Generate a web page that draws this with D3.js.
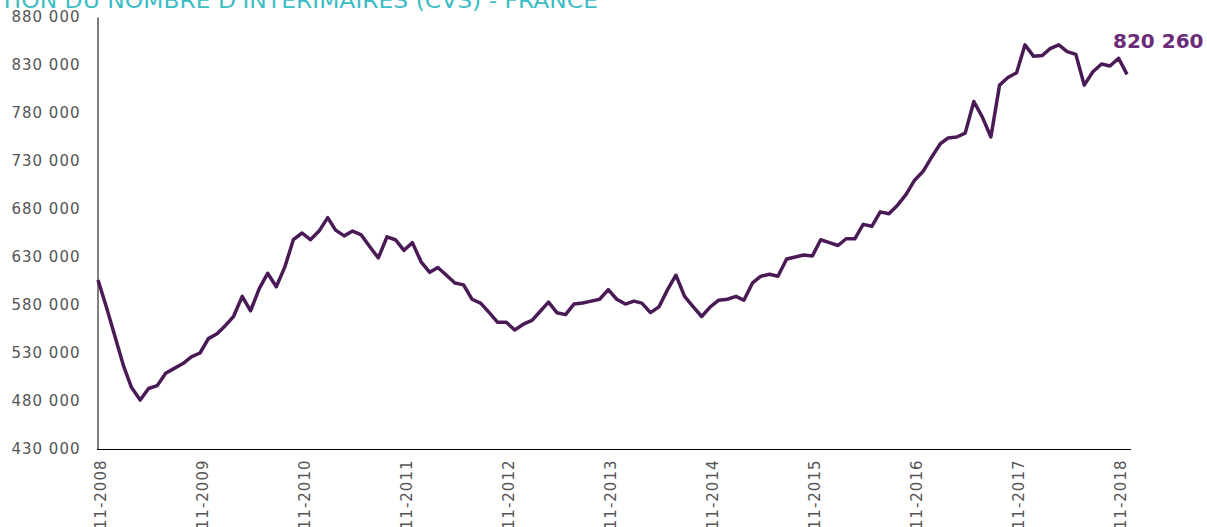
<!DOCTYPE html>
<html>
<head>
<meta charset="utf-8">
<script src="https://cdn.jsdelivr.net/npm/d3@7"></script>
<style>
  html, body { margin: 0; padding: 0; background: #fff; }
  svg { display: block; }
</style>
</head>
<body>
<svg id="chart" width="1207" height="527"></svg>
<script>
// ---- Data ----
const titleText = "ÉVOLUTION DU NOMBRE D'INTERIMAIRES (CVS) - FRANCE";
const startMonth = "2008-11";   // first monthly observation
const values = [
  606000, 578000, 547000, 516000, 494000, 481000, 493000, 496000, 509000, 514000,
  519000, 526000, 530000, 545000, 550000, 559000, 568000, 589000, 574000, 597000,
  613000, 599000, 620000, 648000, 655000, 648000, 657000, 671000, 658000, 652000,
  657000, 653000, 641000, 629000, 651000, 648000, 637000, 645000, 625000, 614000,
  619000, 611000, 603000, 601000, 586000, 582000, 572000, 562000, 562000, 554000,
  560000, 564000, 573000, 583000, 572000, 570000, 581000, 582000, 584000, 586000,
  596000, 586000, 581000, 584000, 582000, 572000, 578000, 596000, 611000, 589000,
  578000, 568000, 578000, 585000, 586000, 589000, 585000, 603000, 610000, 612000,
  610000, 628000, 630000, 632000, 631000, 648000, 645000, 642000, 649000, 649000,
  664000, 662000, 677000, 675000, 684000, 695000, 710000, 719000, 734000, 748000,
  754000, 755000, 759000, 792000, 776000, 755000, 809000, 817000, 822000, 851000,
  839000, 840000, 847000, 851000, 844000, 841000, 809000, 823000, 831000, 829000,
  837000, 820260
];
const yTicks = [430000, 480000, 530000, 580000, 630000, 680000, 730000, 780000, 830000, 880000];
const xTickLabels = ["11-2008","11-2009","11-2010","11-2011","11-2012","11-2013","11-2014","11-2015","11-2016","11-2017","11-2018"];

// ---- Build dates ----
const parseMonth = d3.timeParse("%Y-%m");
const parseTick = d3.timeParse("%m-%Y");
const t0 = parseMonth(startMonth);
const data = values.map((v, i) => ({ date: d3.timeMonth.offset(t0, i), value: v }));

const svg = d3.select("#chart");
const mLeft = 98, mRight = 1127, mTop = 17, mBottom = 449;

const x = d3.scaleTime()
  .domain([data[0].date, data[data.length - 1].date])
  .range([mLeft, mRight]);
const y = d3.scaleLinear()
  .domain([430000, 880000])
  .range([mBottom, mTop]);

const fmt = v => d3.format(",")(v).replace(/,/g, " ");
const labelFont = "'DejaVu Sans', sans-serif";

// ---- Title (cropped at top-left) ----
const title = svg.append("text")
  .attr("y", 8)
  .attr("font-family", labelFont)
  .attr("font-size", 21)
  .attr("fill", "#3dbdc3")
  .text(titleText);
const tmp = svg.append("text").attr("font-family", labelFont).attr("font-size", 21).text("ÉVOLU");
const prefixW = tmp.node().getComputedTextLength();
tmp.remove();
const totalW = title.node().getComputedTextLength();
const k = 598 / (totalW - prefixW);
title.attr("x", -prefixW * k)
  .attr("textLength", totalW * k)
  .attr("lengthAdjust", "spacingAndGlyphs");

// ---- Y axis ----
const yAxis = d3.axisLeft(y).tickValues(yTicks).tickSize(0).tickPadding(17).tickFormat(fmt);
const gy = svg.append("g").attr("transform", `translate(${mLeft - 0.5},0)`).call(yAxis);
gy.select(".domain").attr("stroke", "#000").attr("stroke-width", 1);
gy.selectAll("text")
  .attr("font-family", labelFont)
  .attr("font-size", 15)
  .attr("letter-spacing", "1px")
  .attr("fill", "#555");

// ---- X axis ----
const xAxis = d3.axisBottom(x)
  .tickValues(xTickLabels.map(parseTick))
  .tickSize(0)
  .tickFormat(d3.timeFormat("%m-%Y"));
const gx = svg.append("g").attr("transform", `translate(0,${mBottom + 0.5})`).call(xAxis);
gx.select(".domain").attr("stroke", "#000").attr("stroke-width", 1)
  .attr("d", `M${mLeft - 1},0H${mRight + 4}`);
gx.selectAll("text")
  .attr("font-family", labelFont)
  .attr("font-size", 15)
  .attr("letter-spacing", "1px")
  .attr("fill", "#555")
  .attr("text-anchor", "end")
  .attr("transform", "translate(2,10) rotate(-90)")
  .attr("x", 0)
  .attr("y", 0)
  .attr("dy", "0.35em");

// ---- Line ----
const line = d3.line().x(d => x(d.date)).y(d => y(d.value));
svg.append("path")
  .datum(data)
  .attr("fill", "none")
  .attr("stroke", "#4a1a56")
  .attr("stroke-width", 3.5)
  .attr("stroke-linejoin", "round")
  .attr("d", line);

// ---- Last value label ----
const last = data[data.length - 1];
svg.append("text")
  .attr("x", x(last.date) - 14)
  .attr("y", 48)
  .attr("font-family", labelFont)
  .attr("font-weight", "bold")
  .attr("font-size", 20)
  .attr("fill", "#6a2c7a")
  .text(fmt(last.value));
</script>
</body>
</html>
